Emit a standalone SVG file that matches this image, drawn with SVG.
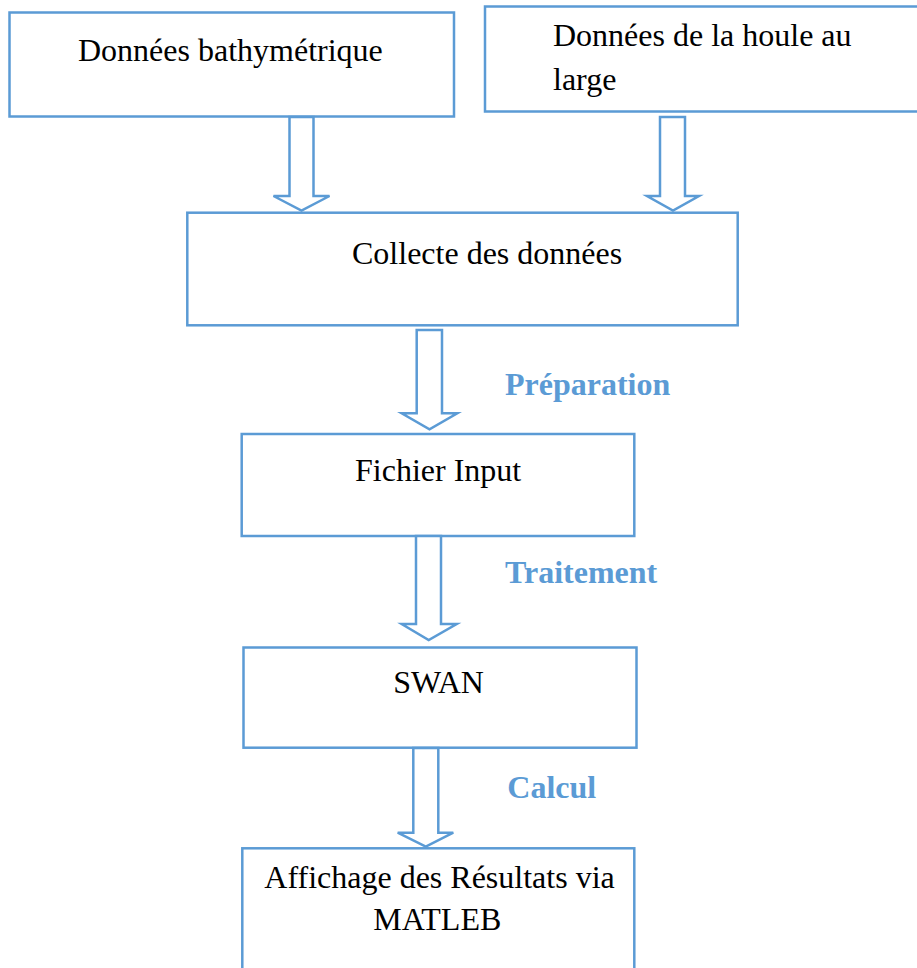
<svg xmlns="http://www.w3.org/2000/svg" width="917" height="968" viewBox="0 0 917 968">
<style>
.box{fill:#fff;stroke:#5B9BD5;stroke-width:2.5}
.arr{fill:#fff;stroke:#5B9BD5;stroke-width:2.5;stroke-linejoin:miter}
.t{font-family:"Liberation Serif","Times New Roman",serif;font-size:32px;fill:#000}
.lbl{font-family:"Liberation Serif","Times New Roman",serif;font-size:32px;font-weight:bold;fill:#5B9BD5}
</style>
<rect width="917" height="968" fill="#fff"/>
<g id="bathy">
<rect class="box" x="9.5" y="12.5" width="444.5" height="104"/>
<text class="t" x="78" y="61">Données bathymétrique</text>
</g>
<g id="houle">
<rect class="box" x="485" y="6.5" width="440" height="105"/>
<text class="t" x="553" y="46">Données de la houle au</text>
<text class="t" x="553" y="89.5">large</text>
</g>
<g id="collecte">
<rect class="box" x="187.3" y="212.7" width="550.4" height="112.6"/>
<text class="t" x="352" y="264">Collecte des données</text>
</g>
<g id="fichier">
<rect class="box" x="241.7" y="434" width="392.6" height="102"/>
<text class="t" x="355" y="481">Fichier Input</text>
</g>
<g id="swan">
<rect class="box" x="243.5" y="647.5" width="393" height="100.2"/>
<text class="t" x="393.3" y="692.7">SWAN</text>
</g>
<g id="affichage">
<rect class="box" x="242.3" y="848.3" width="392" height="130"/>
<text class="t" x="264.3" y="888.3">Affichage des Résultats via</text>
<text class="t" x="373.3" y="930">MATLEB</text>
</g>
<g id="connectors">
<polygon class="arr" points="289.5,117 313.5,117 313.5,196 329.5,196 301.5,210.5 273.5,196 289.5,196"/>
<polygon class="arr" points="660,117 685,117 685,196 699,196 673,210.5 647,196 660,196"/>
<polygon class="arr" points="416.7,330 442,330 442,413.3 457.3,413.3 429.5,429.3 401.7,413.3 416.7,413.3"/>
<polygon class="arr" points="416,536 441,536 441,624 456.7,624 428.7,640 401.7,624 416,624"/>
<polygon class="arr" points="413.3,748 438.3,748 438.3,832.7 453.3,832.7 425.8,846.7 397.7,832.7 413.3,832.7"/>
<text class="lbl" x="505" y="395">Préparation</text>
<text class="lbl" x="505" y="583.3">Traitement</text>
<text class="lbl" x="507.3" y="797.7">Calcul</text>
</g>
</svg>
